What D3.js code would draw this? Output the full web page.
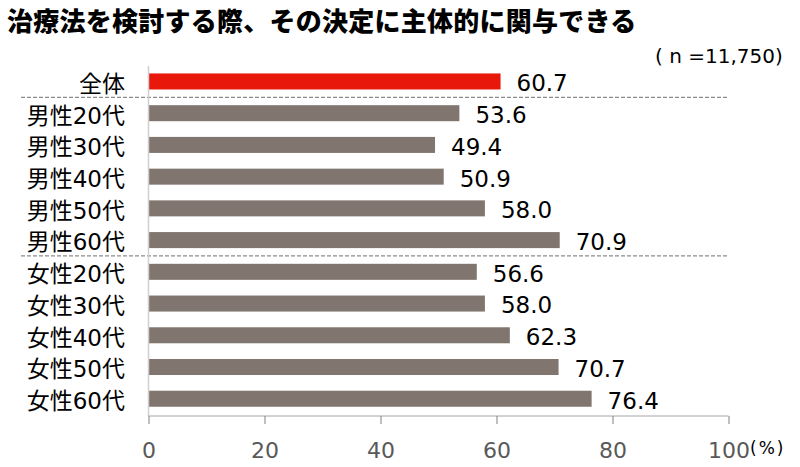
<!DOCTYPE html>
<html><head><meta charset="utf-8">
<script src="https://cdn.jsdelivr.net/npm/d3@7"></script>
<style>body{margin:0;background:#fff;} svg{display:block;}</style>
</head><body>
<svg id="c" width="800" height="467"></svg>
<script>
const categories = ["全体","男性20代","男性30代","男性40代","男性50代","男性60代","女性20代","女性30代","女性40代","女性50代","女性60代"];
const values = [60.7,53.6,49.4,50.9,58.0,70.9,56.6,58.0,62.3,70.7,76.4];
const tickValues = [0,20,40,60,80,100];
const groupBreaks = ["全体","男性60代"]; // dashed line drawn below these
const title = "治療法を検討する際、その決定に主体的に関与できる";
const note = "( n =11,750)";
const unit = "(%)";

const svg = d3.select("#c");
const font = "'DejaVu Sans','Noto Sans CJK JP',sans-serif";
const titleFont = "'Noto Sans CJK JP',sans-serif";
const x = d3.scaleLinear().domain([0,100]).range([148.5,728.5]);
const y = d3.scaleBand().domain(categories).range([65.6,414.6]).paddingInner(0.495).paddingOuter(0.2475);

svg.append("text").attr("x",7).attr("y",31).attr("font-family",titleFont).attr("font-weight",900)
  .attr("font-size",26).attr("letter-spacing",0.25).attr("fill","#000").text(title);
svg.append("text").attr("x",655).attr("y",63).attr("font-family",font)
  .attr("font-size",20).attr("fill","#000").text(note);

// bars
svg.selectAll("rect.bar").data(categories).enter().append("rect")
  .attr("x",x(0)).attr("y",d=>y(d)).attr("height",y.bandwidth())
  .attr("width",(d,i)=>x(values[i])-x(0))
  .attr("fill",(d,i)=>i===0?"#E8190A":"#80766F");

// value labels
svg.selectAll("text.val").data(categories).enter().append("text")
  .attr("x",(d,i)=>x(values[i])+16).attr("y",d=>y(d)+y.bandwidth()/2)
  .attr("dy","0.43em").attr("font-family",font).attr("font-size",23).attr("fill","#000")
  .text((d,i)=>values[i].toFixed(1));

// category labels
svg.selectAll("text.cat").data(categories).enter().append("text")
  .attr("x",125).attr("y",d=>y(d)+y.bandwidth()/2).attr("dy","0.45em").attr("text-anchor","end")
  .attr("font-family",font).attr("font-size",23).attr("fill","#000").text(d=>d);

// dashed separators
groupBreaks.forEach(c=>{
  const yy = y(c)+y.bandwidth()+ (y.step()-y.bandwidth())/2;
  svg.append("line").attr("x1",21).attr("x2",728).attr("y1",yy).attr("y2",yy)
    .attr("stroke","#8c8c8c").attr("stroke-width",1.2).attr("stroke-dasharray","4,2");
});

// vertical axis line
svg.append("line").attr("x1",x(0)).attr("x2",x(0)).attr("y1",66).attr("y2",416)
  .attr("stroke","#d0d0d0").attr("stroke-width",1.5);

// x axis
const ax = svg.append("g").attr("transform","translate(0,416)")
  .call(d3.axisBottom(x).tickValues(tickValues).tickSize(8).tickPadding(18).tickFormat(d3.format("d")));
ax.select(".domain").attr("stroke","#a6a6a6").attr("d",`M${x(0)},0H${x(100)}`);
ax.selectAll(".tick line").attr("stroke","#808080");
ax.selectAll(".tick text").attr("font-family",font).attr("font-size",22).attr("fill","#595959");

svg.append("text").attr("x",750).attr("y",454).attr("font-family",font).attr("font-size",17)
  .attr("letter-spacing",2).attr("fill","#000").text(unit);
</script>
</body></html>
